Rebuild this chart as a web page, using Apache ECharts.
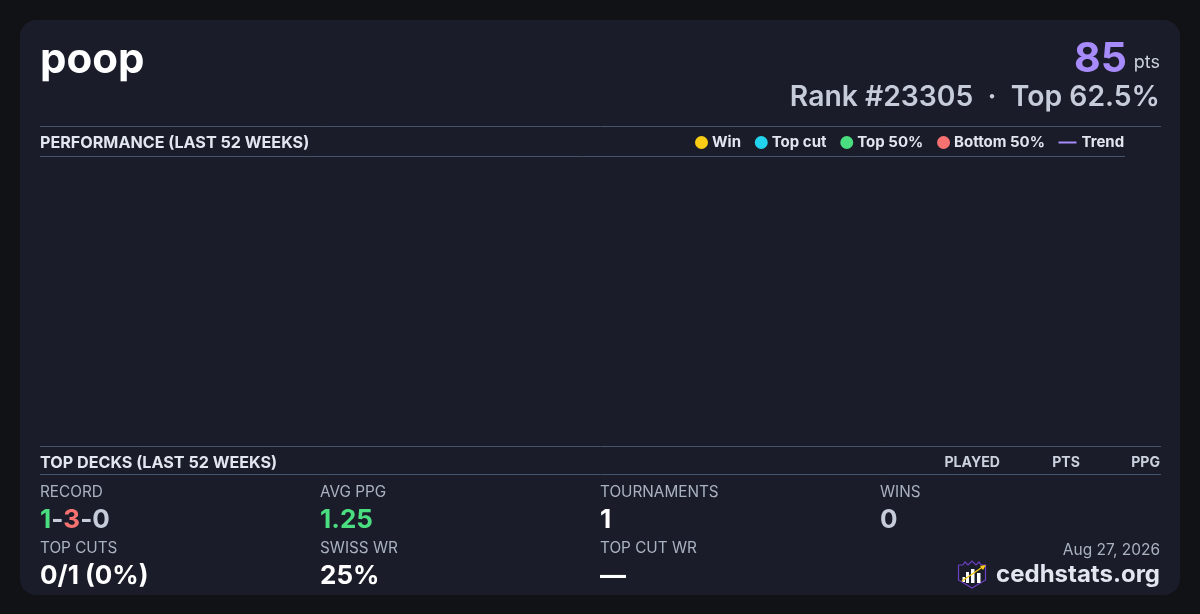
<!DOCTYPE html>
<html><head><meta charset="utf-8">
<style>html,body{margin:0;padding:0;background:#101216}#c{width:1200px;height:614px}</style>
<script src="https://cdn.jsdelivr.net/npm/echarts@6/dist/echarts.min.js"></script>
</head><body><div id="c"></div>
<script>
const playerName = 'poop';
const points = '85';
const rankLine = 'Rank #23305  ·  Top 62.5%';
const weeks = [];
const winData = [];
const topCutData = [];
const top50Data = [];
const bottom50Data = [];
const trendData = [];
const deckColumns = ['PLAYED', 'PTS', 'PPG'];
const recordParts = ['1', '3', '0'];
const statLabels = ['RECORD', 'AVG PPG', 'TOURNAMENTS', 'WINS', 'TOP CUTS', 'SWISS WR', 'TOP CUT WR'];
const statValues = [null, '1.25', '1', '0', '0/1 (0%)', '25%', '—'];
const stampDate = 'Aug 27, 2026';
const brand = 'cedhstats.org';

const F = 'Inter';
const T = (x, y, text, size, weight, fill, align) => ({
  type: 'text', x, y, silent: true,
  style: { text, fontFamily: F, fontSize: size, fontWeight: weight, fill, align: align || 'left', verticalAlign: 'middle' }
});
const L = (x1, x2, y) => ({
  type: 'line', silent: true, shape: { x1, y1: y, x2, y2: y }, style: { stroke: '#46546b', lineWidth: 1 }
});
const colX = [40, 320, 600, 880];
const LS = 15.3, VS = 26;
const g = [
  { type: 'rect', z: -1, shape: { x: 20, y: 20, width: 1160, height: 575, r: 16 }, style: { fill: '#1a1d29' }, silent: true },
  T(40, 60, playerName, 42, 700, '#ffffff'),
  T(1127, 59.5, points, 41, 700, '#a78bfa', 'right'),
  T(1160, 63, 'pts', 18, 400, '#cbd2de', 'right'),
  T(1160, 97, rankLine, 28.3, 600, '#c6ccd9', 'right'),
  L(40, 1161, 126.5), L(40, 1125, 156.5), L(40, 1161, 446.5), L(40, 1161, 474.5),
  T(40, 143, 'PERFORMANCE (LAST 52 WEEKS)', 16.15, 700, '#e2e6ef'),
  T(40, 463, 'TOP DECKS (LAST 52 WEEKS)', 16.15, 700, '#e2e6ef'),
  T(1000, 463, deckColumns[0], 14.1, 700, '#cbd2de', 'right'),
  T(1080, 463, deckColumns[1], 14.1, 700, '#cbd2de', 'right'),
  T(1160, 463, deckColumns[2], 14.1, 700, '#cbd2de', 'right'),
  T(colX[0], 492.5, statLabels[0], LS, 400, '#aab2c0'),
  T(colX[1], 492.5, statLabels[1], LS, 400, '#aab2c0'),
  T(colX[2], 492.5, statLabels[2], LS, 400, '#aab2c0'),
  T(colX[3], 492.5, statLabels[3], LS, 400, '#aab2c0'),
  T(colX[0], 548.5, statLabels[4], LS, 400, '#aab2c0'),
  T(colX[1], 548.5, statLabels[5], LS, 400, '#aab2c0'),
  T(colX[2], 548.5, statLabels[6], LS, 400, '#aab2c0'),
  {
    type: 'text', x: colX[0], y: 520, silent: true,
    style: {
      text: `{w|${recordParts[0]}}{d|-}{l|${recordParts[1]}}{d|-}{d|${recordParts[2]}}`,
      verticalAlign: 'middle', fontFamily: F, fontSize: VS, fontWeight: 700,
      rich: {
        w: { fill: '#4ade80', fontFamily: F, fontSize: VS, fontWeight: 700 },
        l: { fill: '#f87171', fontFamily: F, fontSize: VS, fontWeight: 700 },
        d: { fill: '#c6ccd9', fontFamily: F, fontSize: VS, fontWeight: 700 }
      }
    }
  },
  T(colX[1], 520, statValues[1], VS, 700, '#4ade80'),
  T(colX[2], 520, statValues[2], VS, 700, '#ffffff'),
  T(colX[3], 520, statValues[3], VS, 700, '#c6ccd9'),
  T(colX[0], 576, statValues[4], VS, 700, '#ffffff'),
  T(colX[1], 576, statValues[5], VS, 700, '#ffffff'),
  T(colX[2], 576, statValues[6], VS, 700, '#ffffff'),
  T(1160, 550, stampDate, 15.5, 400, '#aab2c0', 'right'),
  T(1160, 575, brand, 24, 700, '#e2e6ef', 'right'),
  { type: 'polyline', silent: true, shape: { points: [[958.5,565],[963,565],[965,562],[968,565],[972,561],[976,565],[979,562],[981,565],[985.5,565],[985.5,580],[972,588],[958.5,580],[958.5,565]] }, style: { stroke: '#6d3fc4', lineWidth: 1.2, fill: 'none' } },
  { type: 'rect', silent: true, shape: { x: 962.5, y: 577, width: 2.5, height: 5 }, style: { fill: '#fff' } },
  { type: 'rect', silent: true, shape: { x: 966, y: 572, width: 3, height: 11 }, style: { fill: '#fff' } },
  { type: 'rect', silent: true, shape: { x: 971, y: 569, width: 3.5, height: 14 }, style: { fill: '#fff' } },
  { type: 'rect', silent: true, shape: { x: 977, y: 573, width: 3.5, height: 10 }, style: { fill: '#fff' } },
  { type: 'line', silent: true, shape: { x1: 962, y1: 581, x2: 984, y2: 566 }, style: { stroke: '#facc15', lineWidth: 1.3 } },
  { type: 'polygon', silent: true, shape: { points: [[986,565],[980,566],[983,570]] }, style: { fill: '#facc15' } }
];
const legText = { fontFamily: F, fontSize: 15, fontWeight: 700, color: '#e2e6ef' };
const chart = echarts.init(document.getElementById('c'), null, { renderer: 'canvas' });
const dot = c => ({ color: c, opacity: 1, borderColor: c, borderWidth: 2 });
chart.setOption({
  animation: false,
  backgroundColor: '#101216',
  grid: { left: 40, right: 75, top: 157, bottom: 168, containLabel: false },
  xAxis: { type: 'category', data: weeks, show: false },
  yAxis: { type: 'value', show: false },
  legend: [
    { data: ['Win', 'Top cut', 'Top 50%', 'Bottom 50%'], left: 695, top: 135, icon: 'circle', itemWidth: 11, itemHeight: 12, itemGap: 13.8, padding: 0, textStyle: legText, selectedMode: false },
    { data: ['Trend'], left: 1058.5, top: 135, icon: 'rect', itemWidth: 18, itemHeight: 2, padding: 0, textStyle: legText, selectedMode: false }
  ],
  series: [
    { name: 'Win', type: 'scatter', data: winData, itemStyle: dot('#facc15') },
    { name: 'Top cut', type: 'scatter', data: topCutData, itemStyle: dot('#22d3ee') },
    { name: 'Top 50%', type: 'scatter', data: top50Data, itemStyle: dot('#4ade80') },
    { name: 'Bottom 50%', type: 'scatter', data: bottom50Data, itemStyle: dot('#f87171') },
    { name: 'Trend', type: 'line', data: trendData, itemStyle: { color: '#a78bfa' }, lineStyle: { color: '#a78bfa' } }
  ],
  graphic: g
});
</script></body></html>
